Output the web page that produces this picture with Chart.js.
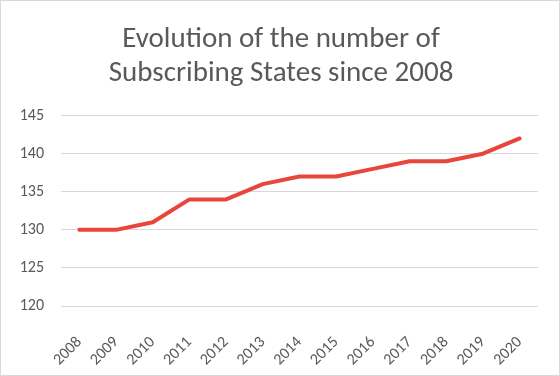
<!DOCTYPE html>
<html>
<head>
<meta charset="utf-8">
<script src="https://cdn.jsdelivr.net/npm/chart.js@4"></script>
<style>
  html, body { margin: 0; padding: 0; background: #fff; }
  #box { width: 558px; height: 374px; border: 1px solid #d9d9d9; position: relative; }
</style>
</head>
<body>
<div id="box"><canvas id="chart"></canvas></div>
<script>
// 연도별 가입국 수
const years = ['2008', '2009', '2010', '2011', '2012', '2013', '2014', '2015', '2016', '2017', '2018', '2019', '2020'];
const stateCounts = [130, 130, 131, 134, 134, 136, 137, 137, 138, 139, 139, 140, 142];
const titleLines = ['Evolution of the number of', 'Subscribing States since 2008'];
const yMin = 120;
const yMax = 145;
const yStep = 5;

const textColor = '#595959';
const fontFamily = "Calibri, 'Open Sans', sans-serif";

new Chart(document.getElementById('chart'), {
    type: 'line',
    data: {
        labels: years,
        datasets: [{
            data: stateCounts,
            borderColor: '#e8453b',
            borderWidth: 4,
            borderCapStyle: 'round',
            borderJoinStyle: 'round',
            pointRadius: 0,
            tension: 0,
            fill: false
        }]
    },
    options: {
        responsive: true,
        maintainAspectRatio: false,
        animation: false,
        layout: {
            padding: { left: 10, right: 8, top: 21, bottom: 9 }
        },
        plugins: {
            legend: { display: false },
            tooltip: { enabled: false },
            title: {
                display: true,
                text: titleLines,
                color: textColor,
                font: { family: fontFamily, size: 29, weight: 'normal', lineHeight: 1.2 },
                padding: { top: 0, bottom: 24 }
            }
        },
        scales: {
            x: {
                offset: true,
                grid: { display: false },
                border: { display: false },
                afterFit: (scale) => { scale.height = 60; },
                ticks: {
                    color: textColor,
                    font: { family: fontFamily, size: 16 },
                    minRotation: 45,
                    maxRotation: 45,
                    autoSkip: false,
                    padding: 19
                }
            },
            y: {
                min: yMin,
                max: yMax,
                border: { display: false },
                grid: { color: '#d9d9d9', drawTicks: false },
                afterFit: (scale) => { scale.width = 50; },
                ticks: {
                    stepSize: yStep,
                    color: textColor,
                    font: { family: fontFamily, size: 16 },
                    padding: 17
                }
            },
            // 오른쪽 여백용 빈 축
            yRight: {
                position: 'right',
                border: { display: false },
                grid: { display: false },
                ticks: { display: false },
                afterFit: (scale) => { scale.width = 13; }
            }
        }
    }
});
</script>
</body>
</html>
